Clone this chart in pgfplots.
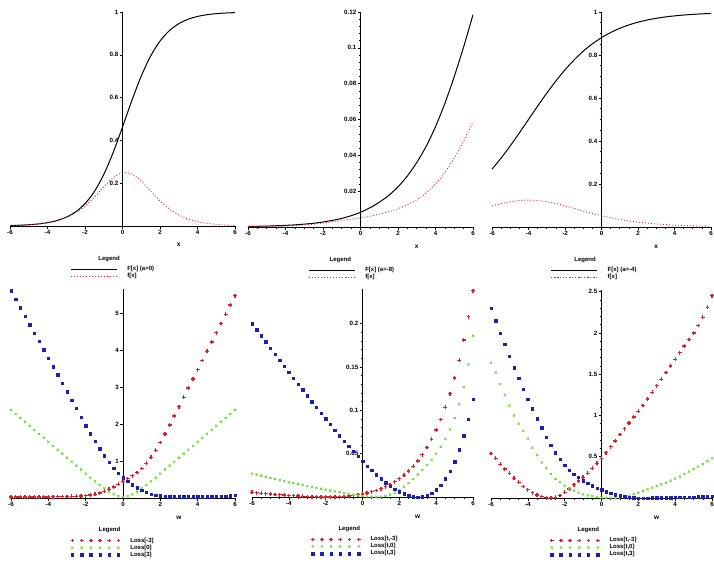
\documentclass[border=0pt]{standalone}
\usepackage{fontspec}
\setmainfont{Liberation Sans}
\usepackage{pgfplots}
\usepackage{pgfplotstable}
\pgfplotsset{compat=1.18}
\definecolor{mred}{RGB}{225,30,40}
\definecolor{mgreen}{RGB}{110,215,60}
\definecolor{mblue}{RGB}{30,30,175}
\definecolor{dred}{RGB}{205,40,60}

% top row: x, F (cdf), f (pdf)
\pgfplotstableread{
x F f
-6 0.0021 0.0021
-5.5 0.0035 0.0035
-5 0.0058 0.0057
-4.5 0.0095 0.0094
-4 0.0155 0.0153
-3.5 0.0253 0.0247
-3 0.0411 0.0394
-2.5 0.0660 0.0616
-2 0.1043 0.0934
-1.5 0.1611 0.1352
-1 0.2405 0.1827
-0.5 0.3430 0.2253
0 0.4626 0.2486
0.5 0.5866 0.2425
1 0.7006 0.2098
1.5 0.7941 0.1635
2 0.8641 0.1174
2.5 0.9129 0.0795
3 0.9453 0.0517
3.5 0.9661 0.0328
4 0.9792 0.0204
4.5 0.9873 0.0126
5 0.9922 0.0078
5.5 0.9953 0.0047
6 0.9971 0.0029
}\tabTL
\pgfplotstableread{
x F f
-6 0.0003 0.0002
-5.5 0.0004 0.0002
-5 0.0005 0.0003
-4.5 0.0007 0.0004
-4 0.0009 0.0006
-3.5 0.0012 0.0008
-3 0.0016 0.0012
-2.5 0.0021 0.0016
-2 0.0028 0.0022
-1.5 0.0037 0.0030
-1 0.0048 0.0037
-0.5 0.0063 0.0044
0 0.0082 0.0051
0.5 0.0107 0.0060
1 0.0138 0.0071
1.5 0.0176 0.0085
2 0.0224 0.0102
2.5 0.0285 0.0124
3 0.0360 0.0152
3.5 0.0450 0.0190
4 0.0560 0.0240
4.5 0.0690 0.0305
5 0.0840 0.0385
5.5 0.1005 0.0480
6 0.1185 0.0585
}\tabTM
\pgfplotstableread{
x F f
-6 0.2689 0.0983
-5.5 0.3208 0.1089
-5 0.3775 0.1175
-4.5 0.4378 0.1231
-4 0.5000 0.1250
-3.5 0.5622 0.1231
-3 0.6225 0.1175
-2.5 0.6792 0.1089
-2 0.7311 0.0983
-1.5 0.7773 0.0866
-1 0.8176 0.0746
-0.5 0.8520 0.0630
0 0.8808 0.0525
0.5 0.9047 0.0431
1 0.9241 0.0351
1.5 0.9399 0.0282
2 0.9526 0.0226
2.5 0.9627 0.0180
3 0.9707 0.0142
3.5 0.9770 0.0112
4 0.9820 0.0088
4.5 0.9859 0.0070
5 0.9890 0.0054
5.5 0.9914 0.0043
6 0.9933 0.0033
}\tabTR

% bottom row: x, r, g, b
\pgfplotstableread{
x r g b
-6 0.03 2.38 5.60
-5.75 0.03 2.27 5.37
-5.5 0.03 2.165 5.15
-5.25 0.03 2.06 4.92
-5 0.03 1.95 4.69
-4.75 0.03 1.84 4.46
-4.5 0.03 1.735 4.24
-4.25 0.03 1.63 4.01
-4 0.03 1.52 3.78
-3.75 0.032 1.41 3.55
-3.5 0.035 1.305 3.33
-3.25 0.037 1.20 3.10
-3 0.04 1.09 2.87
-2.75 0.045 0.98 2.64
-2.5 0.05 0.875 2.42
-2.25 0.055 0.77 2.19
-2 0.06 0.66 1.96
-1.75 0.078 0.55 1.74
-1.5 0.10 0.45 1.53
-1.25 0.135 0.35 1.33
-1 0.18 0.26 1.14
-0.75 0.235 0.17 0.97
-0.5 0.30 0.10 0.81
-0.25 0.37 0.05 0.67
0 0.45 0.03 0.55
0.25 0.52 0.05 0.45
0.5 0.60 0.10 0.36
0.75 0.69 0.17 0.28
1 0.80 0.26 0.21
1.25 0.94 0.35 0.16
1.5 1.10 0.45 0.11
1.75 1.29 0.55 0.08
2 1.50 0.66 0.06
2.25 1.73 0.77 0.05
2.5 1.97 0.875 0.04
2.75 2.22 0.98 0.04
3 2.47 1.09 0.04
3.25 2.72 1.20 0.04
3.5 2.97 1.305 0.04
3.75 3.22 1.41 0.04
4 3.47 1.52 0.04
4.25 3.72 1.63 0.04
4.5 3.97 1.735 0.04
4.75 4.22 1.84 0.04
5 4.47 1.95 0.045
5.25 4.72 2.06 0.05
5.5 4.97 2.165 0.055
5.75 5.22 2.27 0.06
6 5.47 2.38 0.07
}\tabBL
\pgfplotstableread{
x r g b
-6 0.0054 0.0270 0.2001
-5.75 0.0049 0.0258 0.1931
-5.5 0.0044 0.0245 0.1861
-5.25 0.0039 0.0233 0.1790
-5 0.0035 0.0220 0.1720
-4.75 0.0030 0.0208 0.1651
-4.5 0.0026 0.0195 0.1581
-4.25 0.0022 0.0183 0.1511
-4 0.0018 0.0170 0.1442
-3.75 0.0014 0.0160 0.1373
-3.5 0.0011 0.0150 0.1305
-3.25 0.0008 0.0138 0.1236
-3 0.0005 0.0125 0.1168
-2.75 0.0003 0.0115 0.1101
-2.5 0.0001 0.0105 0.1034
-2.25 0.0000 0.0095 0.0968
-2 0.0000 0.0085 0.0902
-1.75 0.0000 0.0075 0.0837
-1.5 0.0002 0.0065 0.0773
-1.25 0.0004 0.0055 0.0709
-1 0.0007 0.0045 0.0647
-0.75 0.0012 0.0035 0.0586
-0.5 0.0018 0.0026 0.0527
-0.25 0.0025 0.0018 0.0468
0 0.0034 0.0011 0.0412
0.25 0.0046 0.0006 0.0358
0.5 0.0060 0.0003 0.0306
0.75 0.0076 0.0002 0.0256
1 0.0095 0.0004 0.0210
1.25 0.0118 0.0012 0.0166
1.5 0.0144 0.0028 0.0127
1.75 0.0175 0.0050 0.0091
2 0.0211 0.0080 0.0061
2.25 0.0252 0.0118 0.0036
2.5 0.0299 0.0160 0.0016
2.75 0.0354 0.0208 0.0004
3 0.0417 0.0260 0.0000
3.25 0.0489 0.0313 0.0005
3.5 0.0571 0.0370 0.0019
3.75 0.0665 0.0430 0.0046
4 0.0772 0.0500 0.0085
4.25 0.0895 0.0580 0.0139
4.5 0.1034 0.0670 0.0209
4.75 0.1193 0.0780 0.0299
5 0.1374 0.0910 0.0409
5.25 0.1579 0.1070 0.0544
5.5 0.1813 0.1270 0.0707
5.75 0.2079 0.1530 0.0901
6 0.2381 0.1860 0.1130
}\tabBM
\pgfplotstableread{
x r g b
-6 0.54 1.64 2.30
-5.75 0.48 1.52 2.15
-5.5 0.41 1.38 2.00
-5.25 0.35 1.25 1.86
-5 0.30 1.12 1.72
-4.75 0.24 1.00 1.58
-4.5 0.19 0.90 1.45
-4.25 0.14 0.81 1.32
-4 0.10 0.72 1.20
-3.75 0.065 0.61 1.08
-3.5 0.035 0.52 0.96
-3.25 0.015 0.43 0.85
-3 0.004 0.36 0.74
-2.75 0.000 0.29 0.64
-2.5 0.010 0.23 0.55
-2.25 0.030 0.19 0.47
-2 0.070 0.15 0.40
-1.75 0.110 0.115 0.34
-1.5 0.160 0.09 0.29
-1.25 0.205 0.065 0.25
-1 0.250 0.045 0.21
-0.75 0.300 0.03 0.18
-0.5 0.360 0.02 0.15
-0.25 0.420 0.012 0.12
0 0.480 0.006 0.10
0.25 0.550 0.002 0.078
0.5 0.620 0.000 0.058
0.75 0.690 0.001 0.040
1 0.770 0.006 0.026
1.25 0.840 0.015 0.015
1.5 0.910 0.028 0.007
1.75 0.980 0.045 0.003
2 1.050 0.065 0.001
2.25 1.120 0.085 0.000
2.5 1.200 0.105 0.001
2.75 1.280 0.125 0.002
3 1.360 0.145 0.003
3.25 1.440 0.165 0.004
3.5 1.520 0.185 0.005
3.75 1.600 0.210 0.006
4 1.680 0.235 0.007
4.25 1.760 0.260 0.008
4.5 1.840 0.290 0.009
4.75 1.920 0.320 0.010
5 2.000 0.350 0.012
5.25 2.090 0.380 0.014
5.5 2.190 0.410 0.016
5.75 2.310 0.445 0.018
6 2.450 0.480 0.020
}\tabBR

\pgfplotsset{
  maple/.style={
    scale only axis,
    axis lines=middle,
    axis line style={-, line width=0.8pt},
    xmin=-6, xmax=6, ymin=0,
    xtick={-6,-4,-2,0,2,4,6},
    xticklabels={-6,-4,-2,0,2,4,6},
    hide obscured x ticks=false,
    tick align=outside,
    major tick length=3pt, minor tick length=1.8pt,
    tick style={line width=0.6pt, black},
    ticklabel style={font=\fontsize{6.2}{7}\selectfont\bfseries, inner sep=1pt},
    scaled y ticks=false,
    clip=false,
    legend cell align=left,
    legend style={draw=none, fill=none, anchor=north west,
      font=\fontsize{6}{7}\selectfont\bfseries,
      inner sep=0pt, row sep=-0.8pt, column sep=9pt, nodes={inner sep=1pt}},
    xlabel style={font=\fontsize{6.5}{7}\selectfont\bfseries, anchor=center},
  },
  mleg/.style={legend image code/.code={
    \draw[##1] plot coordinates {(0pt,0pt) (9.2pt,0pt) (18.4pt,0pt) (27.6pt,0pt) (36.8pt,0pt) (46pt,0pt)};}},
  cdfline/.style={black, line width=1pt, smooth, mark=none, mleg},
  pdfline/.style={dred, line width=0.9pt, dash pattern=on 1pt off 2pt, smooth, mark=none, mleg},
  redpts/.style={mred, only marks, mark=+, mark size=1.9pt, line width=1.3pt, mleg},
  greenpts/.style={mgreen, only marks, mark=x, mark size=1.5pt, line width=0.8pt, mleg},
  bluepts/.style={mblue, only marks, mark=square*, mark size=1.2pt, mleg},
  toplab/.style={xlabel={x}, xlabel style={at={(axis description cs:0.75,-0.09)}},
    legend style={at={(axis description cs:0.267,-0.182)}}},
  botlab/.style={xlabel={w}, xlabel style={at={(axis description cs:0.75,-0.096)}},
    legend style={at={(axis description cs:0.265,-0.184)}}},
}

\begin{document}
\begin{tikzpicture}
\path[use as bounding box] (0pt,0pt) rectangle (714pt,-565pt);

% top left
\begin{axis}[maple, toplab, at={(10pt,-226pt)}, anchor=south west,
  width=225pt, height=214pt, ymax=1,
  ytick={0.2,0.4,0.6,0.8,1}, yticklabels={0.2,0.4,0.6,0.8,1}]
\addplot[cdfline] table[x=x, y=F] {\tabTL};
\addlegendentry{F[x] (a=0)}
\addplot[pdfline] table[x=x, y=f] {\tabTL};
\addlegendentry{f[x]}
\node[font=\fontsize{6}{7}\selectfont\bfseries] at (axis description cs:0.44,-0.154) {Legend};
\end{axis}

% top middle
\begin{axis}[maple, toplab, at={(248pt,-227pt)}, anchor=south west,
  width=225pt, height=215pt, ymax=0.12,
  ytick={0.02,0.04,0.06,0.08,0.1,0.12}, yticklabels={0.02,0.04,0.06,0.08,0.1,0.12},
  minor x tick num=3, minor y tick num=4]
\addplot[cdfline] table[x=x, y=F] {\tabTM};
\addlegendentry{F[x] (a=-8)}
\addplot[pdfline] table[x=x, y=f] {\tabTM};
\addlegendentry{f[x]}
\node[font=\fontsize{6}{7}\selectfont\bfseries] at (axis description cs:0.41,-0.154) {Legend};
\end{axis}

% top right
\begin{axis}[maple, toplab, at={(492pt,-227pt)}, anchor=south west,
  width=219pt, height=215pt, ymax=1,
  ytick={0.2,0.4,0.6,0.8,1}, yticklabels={0.2,0.4,0.6,0.8,1},
  minor x tick num=3, minor y tick num=3]
\addplot[cdfline] table[x=x, y=F] {\tabTR};
\addlegendentry{F[x] (a=-4)}
\addplot[pdfline] table[x=x, y=f] {\tabTR};
\addlegendentry{f[x]}
\node[font=\fontsize{6}{7}\selectfont\bfseries] at (axis description cs:0.425,-0.154) {Legend};
\end{axis}

% bottom left
\begin{axis}[maple, botlab, at={(11pt,-498pt)}, anchor=south west,
  width=224pt, height=209pt, ymax=5.65,
  ytick={1,2,3,4,5}, yticklabels={1,2,3,4,5}]
\addplot[redpts] table[x=x, y=r] {\tabBL};
\addlegendentry{Loss[-3]}
\addplot[greenpts] table[x=x, y=g] {\tabBL};
\addlegendentry{Loss[0]}
\addplot[bluepts] table[x=x, y=b] {\tabBL};
\addlegendentry{Loss[3]}
\node[font=\fontsize{6}{7}\selectfont\bfseries] at (axis description cs:0.44,-0.153) {Legend};
\end{axis}

% bottom middle
\begin{axis}[maple, botlab, at={(252pt,-497pt)}, anchor=south west,
  width=221pt, height=208pt, ymax=0.24,
  ytick={0.05,0.1,0.15,0.2}, yticklabels={0.05,0.1,0.15,0.2},
  minor x tick num=3, minor y tick num=4]
\addplot[redpts] table[x=x, y=r] {\tabBM};
\addlegendentry{Loss[t,-3]}
\addplot[greenpts] table[x=x, y=g] {\tabBM};
\addlegendentry{Loss[t,0]}
\addplot[bluepts] table[x=x, y=b] {\tabBM};
\addlegendentry{Loss[t,3]}
\node[font=\fontsize{6}{7}\selectfont\bfseries] at (axis description cs:0.44,-0.153) {Legend};
\end{axis}

% bottom right
\begin{axis}[maple, botlab, at={(491pt,-498pt)}, anchor=south west,
  width=221pt, height=208pt, ymax=2.52,
  ytick={0.5,1,1.5,2,2.5}, yticklabels={0.5,1,1.5,2,2.5},
  minor x tick num=3, minor y tick num=4]
\addplot[redpts] table[x=x, y=r] {\tabBR};
\addlegendentry{Loss[t,-3]}
\addplot[greenpts] table[x=x, y=g] {\tabBR};
\addlegendentry{Loss[t,0]}
\addplot[bluepts] table[x=x, y=b] {\tabBR};
\addlegendentry{Loss[t,3]}
\node[font=\fontsize{6}{7}\selectfont\bfseries] at (axis description cs:0.44,-0.153) {Legend};
\end{axis}
\end{tikzpicture}
\end{document}
